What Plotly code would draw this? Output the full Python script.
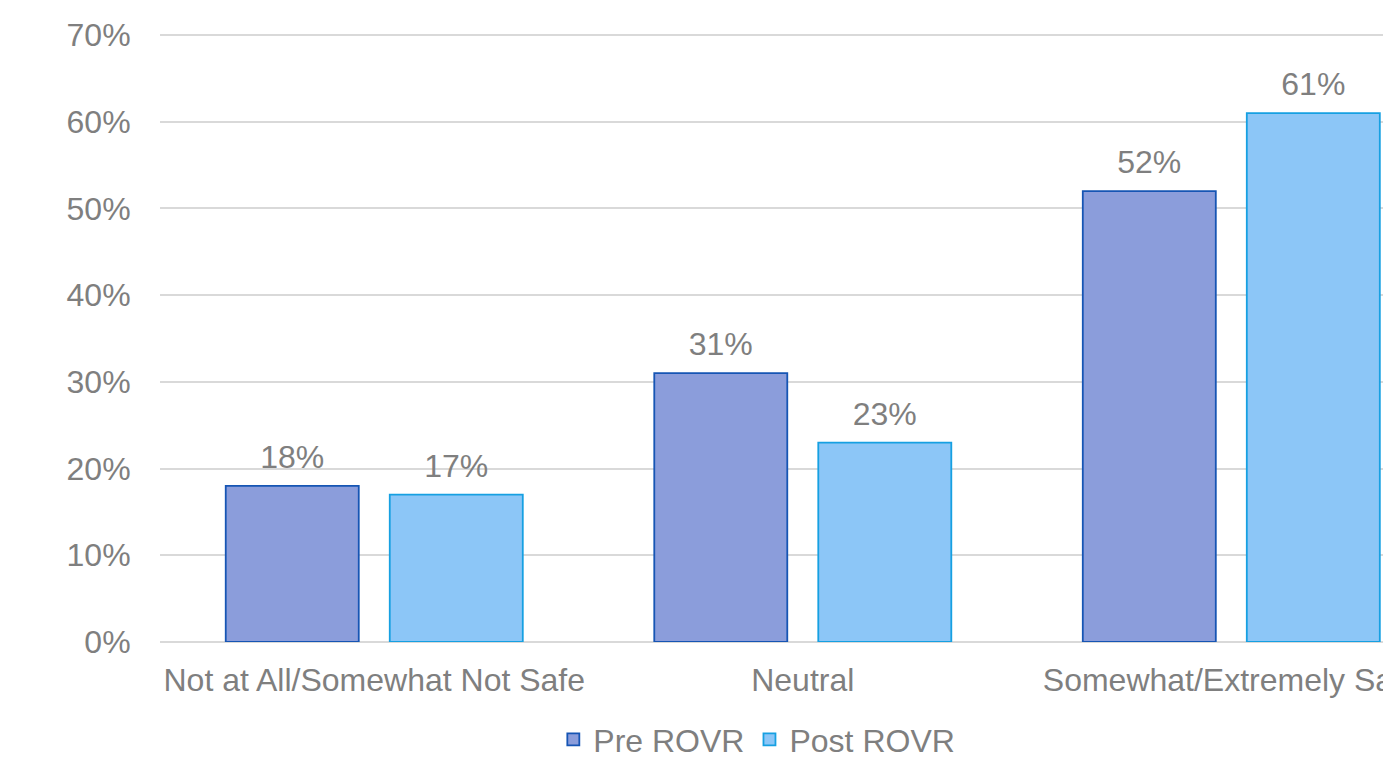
import plotly.graph_objects as go

# Perceived safety survey: share of respondents before and after ROVR
categories = ["Not at All/Somewhat Not Safe", "Neutral", "Somewhat/Extremely Safe"]
pre_rovr = [18, 31, 52]
post_rovr = [17, 23, 61]
series_names = ["Pre ROVR", "Post ROVR"]
y_ticks = [0, 10, 20, 30, 40, 50, 60, 70]

FONT = "Liberation Sans, Arial, sans-serif"
FONT_SIZE = 32
TEXT_GREY = "#7F7F7F"
GRID_GREY = "#D9D9D9"
BAR_GAP = 0.2345

styles = [
    dict(fill="#8B9DDB", edge="#1655B4"),
    dict(fill="#8CC6F7", edge="#16A0E2"),
]


def pct_labels(values):
    return [f"{v}%" for v in values]


fig = go.Figure()
for i, (name, values) in enumerate(zip(series_names, [pre_rovr, post_rovr])):
    group = f"g{i}"
    fig.add_trace(go.Bar(
        name=name, x=categories, y=values,
        offsetgroup=group, alignmentgroup="a",
        marker=dict(color=styles[i]["fill"],
                    line=dict(color=styles[i]["edge"], width=1.8)),
        hoverinfo="skip",
    ))
    # value labels sit above each bar, grouped the same way as the bars
    fig.add_trace(go.Scatter(
        x=categories, y=values, mode="markers+text",
        offsetgroup=group, alignmentgroup="a",
        text=pct_labels(values), textposition="top center",
        textfont=dict(size=FONT_SIZE, color=TEXT_GREY, family=FONT),
        marker=dict(size=14, opacity=0),
        showlegend=False, hoverinfo="skip", cliponaxis=False,
    ))

fig.update_layout(
    width=1383, height=759,
    margin=dict(l=160, r=0, t=32, b=117, autoexpand=False),
    paper_bgcolor="white", plot_bgcolor="white",
    font=dict(family=FONT, size=FONT_SIZE, color=TEXT_GREY),
    barmode="group", bargap=BAR_GAP, bargroupgap=0.189,
    scattermode="group", scattergap=BAR_GAP,
    showlegend=True,
    legend=dict(
        orientation="h", x=0.488, xanchor="center",
        y=-0.16, yanchor="middle",
        font=dict(size=FONT_SIZE, color=TEXT_GREY, family=FONT),
        itemclick=False,
    ),
    xaxis=dict(
        type="category", range=[-0.5, 2.354], automargin=False,
        showgrid=False, showline=False, zeroline=False,
        ticks="outside", ticklen=10, tickcolor="rgba(0,0,0,0)",
        tickfont=dict(size=FONT_SIZE, color=TEXT_GREY, family=FONT),
    ),
    yaxis=dict(
        range=[0, 70.35], tickvals=y_ticks,
        ticktext=[f"{t}%" for t in y_ticks],
        automargin=False,
        showgrid=True, gridcolor=GRID_GREY, gridwidth=1.5,
        zeroline=True, zerolinecolor=GRID_GREY, zerolinewidth=1.5,
        showline=False,
        ticks="outside", ticklen=22, tickcolor="rgba(0,0,0,0)",
        tickfont=dict(size=FONT_SIZE, color=TEXT_GREY, family=FONT),
    ),
)

fig.write_html("out.html")
